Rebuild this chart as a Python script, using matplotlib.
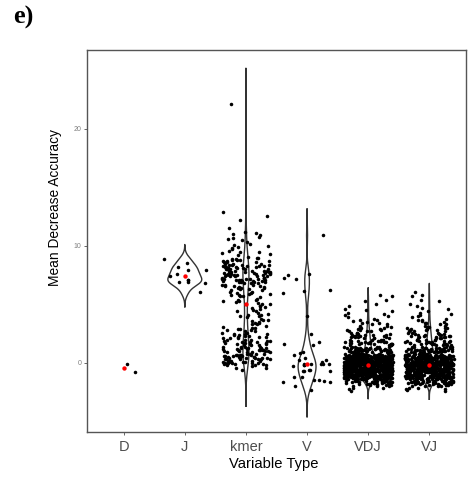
import numpy as np
import matplotlib
matplotlib.use("Agg")
import matplotlib.pyplot as plt

# ---------------- data ----------------
categories = ["D", "J", "kmer", "V", "VDJ", "VJ"]

D_values = [-0.75, -0.1]
J_values = [8.86, 8.18, 7.58, 7.95, 8.52, 7.95, 7.1, 7.08, 6.9, 6.9, 6.81, 6.07, 7.45]
V_values = [10.9, 7.6, 7.3, 7.5, 7.15, 6.2, 6.15, 5.95, 4.05, 2.45, 1.75, 1.5, 1.6,
            0.95, 0.85, 0.7, 0.4, 0.25, 0.25, -0.1, -0.2, -0.1, -0.1, -0.1, -0.7,
            -0.7, -0.65, -0.6, -0.6, -1.2, -1.2, -1.6, -1.6, -1.5, -1.45, -1.45,
            -1.95, -2.3, -0.3, 0.05, -0.2, -0.05]

# dense groups: frequency tables (value level in steps of 0.1 -> number of points)
kmer_start = -0.6
kmer_counts = [1, 0, 2, 1, 3, 3, 5, 4, 5, 6, 6, 5, 4, 5, 5, 4, 4, 5, 4, 4,
               4, 3, 3, 4, 3, 3, 3, 3, 3, 2, 2, 3, 2, 2, 2, 2, 2, 1, 1, 2,
               2, 1, 1, 2, 1, 1, 2, 2, 1, 1, 2, 1, 1, 1, 1, 2, 2, 1, 1, 2,
               2, 1, 1, 2, 2, 2, 2, 2, 2, 2, 3, 2, 3, 3, 3, 4, 4, 4, 5, 4,
               5, 5, 4, 5, 5, 5, 5, 4, 4, 4, 4, 3, 3, 3, 3, 2, 2, 1, 1, 1,
               1, 2, 1, 1, 1, 1, 1, 1, 1, 1, 0, 1, 1, 1, 1, 1, 1, 1, 1, 0,
               0, 1]
kmer_extra = [12.2, 12.6, 12.9, 22.1]

VDJ_start = -2.4
VDJ_counts = [1, 0, 1, 2, 3, 4, 6, 6, 9, 10, 14, 15, 20, 21, 27, 28, 32, 33, 35, 35,
              37, 37, 36, 36, 34, 33, 30, 27, 23, 19, 16, 13, 11, 10, 9, 8, 7, 7, 6, 6,
              6, 5, 5, 5, 5, 4, 4, 4, 4, 3, 3, 3, 3, 2, 2, 2, 2, 2, 2, 1,
              1, 2, 1, 1, 1, 1, 1, 1, 1, 1, 1, 0, 0, 1, 1, 0, 0, 1, 1, 0,
              0, 1, 1, 0]

VJ_start = -2.4
VJ_counts = [1, 1, 2, 2, 4, 5, 7, 8, 11, 12, 15, 16, 19, 20, 23, 24, 27, 28, 30, 31,
             32, 32, 32, 31, 29, 27, 24, 22, 18, 16, 13, 12, 10, 9, 8, 7, 6, 6, 6, 5,
             5, 5, 5, 4, 5, 4, 4, 4, 4, 3, 3, 3, 3, 2, 3, 2, 2, 2, 2, 1,
             1, 2, 1, 1, 1, 1, 1, 1, 1, 0, 1, 1, 0, 1, 1, 0, 0, 1, 1, 0,
             0, 1, 1, 0, 0, 1]

def expand(start, counts, extra=()):
    levels = np.round(start + 0.1 * np.arange(len(counts)), 2)
    return list(np.repeat(levels, counts)) + list(extra)

kmer_values = expand(kmer_start, kmer_counts, kmer_extra)
VDJ_values = expand(VDJ_start, VDJ_counts)
VJ_values = expand(VJ_start, VJ_counts)

groups = [D_values, J_values, kmer_values, V_values, VDJ_values, VJ_values]
draw_violin = [False, True, True, True, True, True]

# ---------------- helpers ----------------
def bw_nrd0(x):
    x = np.asarray(x, float)
    sd = np.std(x, ddof=1)
    q75, q25 = np.percentile(x, [75, 25])
    lo = min(sd, (q75 - q25) / 1.34)
    if lo <= 0:
        lo = sd if sd > 0 else 1.0
    return 0.9 * lo * len(x) ** -0.2

def kde(x):
    x = np.asarray(x, float)
    bw = bw_nrd0(x)
    grid = np.linspace(x.min() - 3 * bw, x.max() + 3 * bw, 512)
    d = np.exp(-0.5 * ((grid[:, None] - x[None, :]) / bw) ** 2).sum(1)
    d /= len(x) * bw * np.sqrt(2 * np.pi)
    return grid, d

def jitter(n, seed):
    k = np.arange(n) + 1.0
    h = np.sin(k * 12.9898 + seed * 78.233) * 43758.5453
    return ((h - np.floor(h)) - 0.5) * 0.8

# ---------------- figure ----------------
fig = plt.figure(figsize=(4.72, 4.79), dpi=100)
ax = fig.add_axes([87 / 472, 1 - 432 / 479, (466 - 87) / 472, (432 - 50) / 479])

dens = [kde(g) for g in groups]
dmax = max(d.max() for _, d in dens)
violin_scale = [0.65, 0.65, 0.45, 0.65, 0.65, 0.65]

for i, (vals, (grid, d)) in enumerate(zip(groups, dens)):
    pos = i + 1
    if draw_violin[i]:
        half = violin_scale[i] * d / dmax
        xs = np.concatenate([pos + half, (pos - half)[::-1], [pos + half[0]]])
        ys = np.concatenate([grid, grid[::-1], [grid[0]]])
        ax.plot(xs, ys, color="#333333", lw=1.0, zorder=2)
    offs = jitter(len(vals), i + 1)
    ax.scatter(pos + offs, vals, s=6.5, color="black", linewidths=0, zorder=3)
    ax.scatter([pos], [np.median(vals)], s=10, color="red", linewidths=0, zorder=4)

ax.set_xlim(0.4, 6.6)
ax.set_ylim(-5.9, 26.75)
ax.set_xticks(range(1, 7))
ax.set_xticklabels(categories, fontsize=10.5, color="#4D4D4D", family="Liberation Sans")
ax.set_yticks([0, 10, 20])
ax.set_yticklabels(["0", "10", "20"], fontsize=5, color="#7F7F7F", family="Liberation Sans")
ax.tick_params(axis="both", length=2.5, width=0.7, color="#666666")
ax.tick_params(axis="x", pad=3)
ax.tick_params(axis="y", pad=1.5)
for s in ax.spines.values():
    s.set_color("#555555")
    s.set_linewidth(1.0)

ax.set_xlabel("Variable Type", fontsize=10.6, family="Liberation Sans", color="black")
ax.xaxis.set_label_coords((273.5 - 87) / 379, -(464 - 432) / 382)
ax.xaxis.label.set_va("center")
ax.set_ylabel("Mean Decrease Accuracy", fontsize=9.9, family="Liberation Sans", color="black")
ax.yaxis.set_label_coords((55 - 87) / 379, (432 - 208) / 382)
ax.yaxis.label.set_va("center")

fig.text(13 / 472, 1 - 24 / 479, "e)", fontsize=19, fontweight="bold",
         family="Liberation Serif", va="baseline", ha="left")

fig.savefig("out.png", dpi=100, facecolor="white")
